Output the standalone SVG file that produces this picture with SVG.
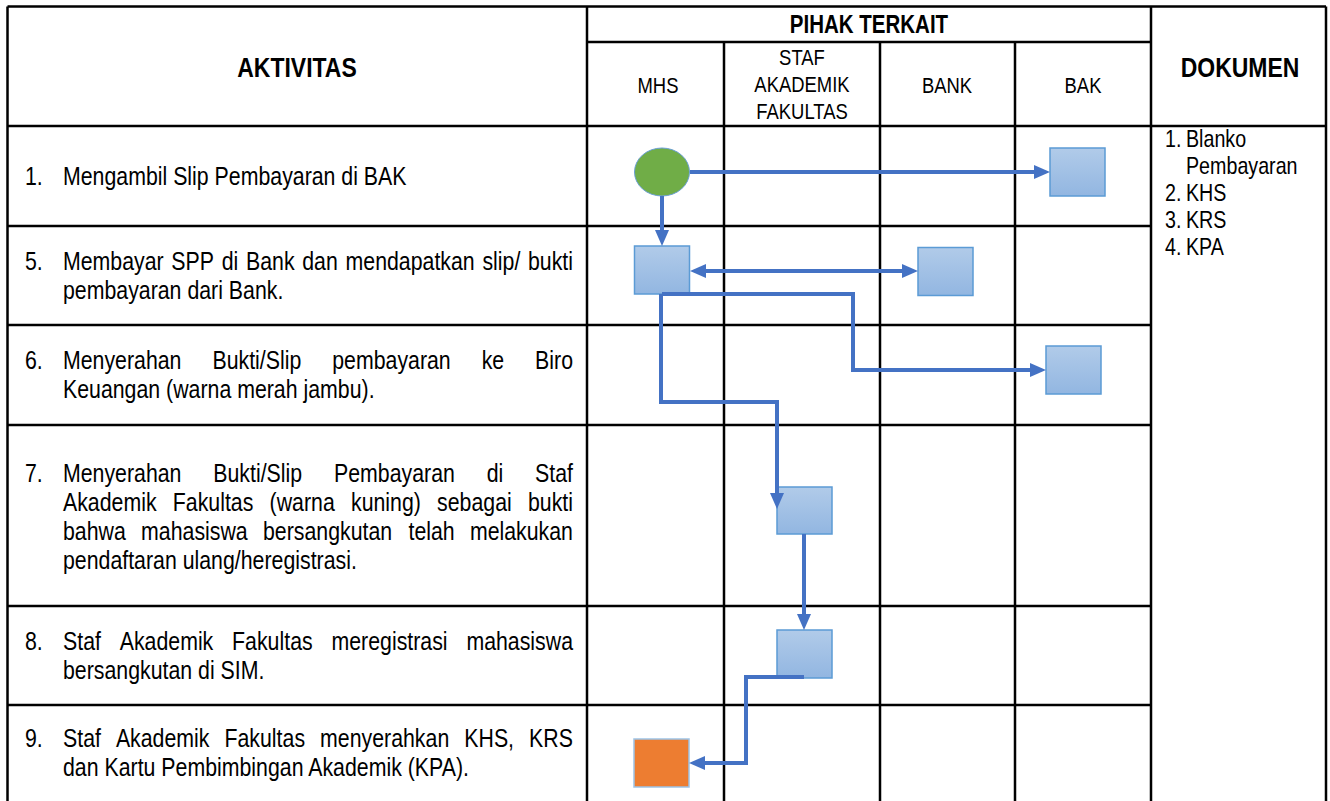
<svg xmlns="http://www.w3.org/2000/svg" width="1330" height="801" viewBox="0 0 1330 801">
<style>
.grid{stroke:#000;stroke-width:2.5;fill:none}
.t{font-family:"Liberation Sans",Arial,sans-serif;font-size:26px;fill:#000}
.d{font-family:"Liberation Sans",Arial,sans-serif;font-size:24px;fill:#000}
.h{font-family:"Liberation Sans",Arial,sans-serif;font-size:22.5px;fill:#000;text-anchor:middle}
.hb{font-family:"Liberation Sans",Arial,sans-serif;font-size:28px;font-weight:bold;fill:#000;text-anchor:middle}
.sq{fill:url(#gb);stroke:#5B9BD5;stroke-width:1.5}
.c{fill:none;stroke:#4472C4;stroke-width:4}
</style>
<defs>
<linearGradient id="gb" x1="0" y1="0" x2="0" y2="1">
<stop offset="0" stop-color="#b1cbe9"/>
<stop offset="1" stop-color="#92b6e1"/>
</linearGradient>
<marker id="ah" markerUnits="userSpaceOnUse" markerWidth="16" markerHeight="14" refX="8" refY="7" orient="auto-start-reverse">
<path d="M0,0 L16,7 L0,14 z" fill="#4472C4"/>
</marker>
</defs>
<rect width="1330" height="801" fill="#fff"/>
<g id="table">
<path class="grid" d="M7.5 6.5 H1326 M7.5 6.5 V801 M1326 6.5 V801 M587 6.5 V801 M1151 6.5 V801 M724 42 V801 M880 42 V801 M1015 42 V801 M587 42 H1151 M7.5 126 H1326 M7.5 226 H1151 M7.5 325 H1151 M7.5 425 H1151 M7.5 606 H1151 M7.5 705 H1151"/>
<g transform="scale(0.82 1)">
<text class="hb" x="362.2" y="77">AKTIVITAS</text>
<text class="hb" x="1059.76" y="33" style="font-size:25px">PIHAK TERKAIT</text>
<text class="hb" x="1512.2" y="77">DOKUMEN</text>
<text class="h" x="802.44" y="93">MHS</text>
<text class="h" x="978.05" y="65">STAF</text>
<text class="h" x="978.05" y="92">AKADEMIK</text>
<text class="h" x="978.05" y="119">FAKULTAS</text>
<text class="h" x="1154.88" y="93">BANK</text>
<text class="h" x="1320.73" y="93">BAK</text>
</g>
</g>
<g id="aktivitas" transform="scale(0.82 1)">
<text class="t" y="185"><tspan x="30.49">1.</tspan><tspan x="76.83">Mengambil Slip Pembayaran di BAK</tspan></text>
<text class="t" y="270"><tspan x="30.49">5.</tspan><tspan x="76.83">Membayar</tspan><tspan x="208.99">SPP</tspan><tspan x="270.41">di</tspan><tspan x="300.01">Bank</tspan><tspan x="368.63">dan</tspan><tspan x="421.4">mendapatkan</tspan><tspan x="588.32">slip/</tspan><tspan x="643.89">bukti</tspan></text>
<text class="t" x="76.83" y="299">pembayaran dari Bank.</text>
<text class="t" y="369.5"><tspan x="30.49">6.</tspan><tspan x="76.83">Menyerahan</tspan><tspan x="259.06">Bukti/Slip</tspan><tspan x="405.2">pembayaran</tspan><tspan x="587.43">ke</tspan><tspan x="652.59">Biro</tspan></text>
<text class="t" x="76.83" y="398.5">Keuangan (warna merah jambu).</text>
<text class="t" y="482.5"><tspan x="30.49">7.</tspan><tspan x="76.83">Menyerahan</tspan><tspan x="260.12">Bukti/Slip</tspan><tspan x="407.32">Pembayaran</tspan><tspan x="593.54">di</tspan><tspan x="652.56">Staf</tspan></text>
<text class="t" y="511.5"><tspan x="76.83">Akademik</tspan><tspan x="210.73">Fakultas</tspan><tspan x="328.78">(warna</tspan><tspan x="428.05">kuning)</tspan><tspan x="533.05">sebagai</tspan><tspan x="643.9">bukti</tspan></text>
<text class="t" y="540.5"><tspan x="76.83">bahwa</tspan><tspan x="172.07">mahasiswa</tspan><tspan x="320.73">bersangkutan</tspan><tspan x="498.17">telah</tspan><tspan x="573.05">melakukan</tspan></text>
<text class="t" x="76.83" y="569.5">pendaftaran ulang/heregistrasi.</text>
<text class="t" y="650"><tspan x="30.49">8.</tspan><tspan x="76.83">Staf</tspan><tspan x="145.98">Akademik</tspan><tspan x="283.05">Fakultas</tspan><tspan x="404.27">meregistrasi</tspan><tspan x="568.78">mahasiswa</tspan></text>
<text class="t" x="76.83" y="679">bersangkutan di SIM.</text>
<text class="t" y="747.5"><tspan x="30.49">9.</tspan><tspan x="76.83">Staf</tspan><tspan x="141.34">Akademik</tspan><tspan x="273.78">Fakultas</tspan><tspan x="390.37">menyerahkan</tspan><tspan x="566.22">KHS,</tspan><tspan x="645.24">KRS</tspan></text>
<text class="t" x="76.83" y="776.5">dan Kartu Pembimbingan Akademik (KPA).</text>
</g>
<g id="dokumen" transform="scale(0.82 1)">
<text class="d" y="147"><tspan x="1420.73">1.</tspan><tspan x="1446.34">Blanko</tspan></text>
<text class="d" x="1446.34" y="174">Pembayaran</text>
<text class="d" y="201"><tspan x="1420.73">2.</tspan><tspan x="1446.34">KHS</tspan></text>
<text class="d" y="228"><tspan x="1420.73">3.</tspan><tspan x="1446.34">KRS</tspan></text>
<text class="d" y="255"><tspan x="1420.73">4.</tspan><tspan x="1446.34">KPA</tspan></text>
</g>
<g id="n-start"><ellipse cx="662" cy="172" rx="27.5" ry="24" fill="#70AD47" stroke="#6a9fd4" stroke-width="1"/></g>
<g id="n-bak1"><rect class="sq" x="1050" y="148" width="55" height="48"/></g>
<g id="n-mhs5"><rect class="sq" x="634.5" y="246" width="55" height="48"/></g>
<g id="n-bank5"><rect class="sq" x="918" y="247.5" width="55" height="48"/></g>
<g id="n-bak6"><rect class="sq" x="1046" y="346" width="55" height="48"/></g>
<g id="n-staf7"><rect class="sq" x="777" y="487" width="55" height="47"/></g>
<g id="n-staf8"><rect class="sq" x="777" y="630" width="55" height="48"/></g>
<g id="n-mhs9"><rect x="634" y="739" width="55" height="48" fill="#ED7D31" stroke="#9DC3E6" stroke-width="1.5"/></g>
<g id="connectors">
<path class="c" d="M690 172 H1042" marker-end="url(#ah)"/>
<path class="c" d="M662 196 V238" marker-end="url(#ah)"/>
<path class="c" d="M698 271 H910" marker-start="url(#ah)" marker-end="url(#ah)"/>
<path class="c" d="M662 294 H853 V370 H1038" marker-end="url(#ah)"/>
<path class="c" d="M661 294 V402 H777 V501" marker-end="url(#ah)"/>
<path class="c" d="M804 534 V622" marker-end="url(#ah)"/>
<path class="c" d="M804 677 H746 V763 H697" marker-end="url(#ah)"/>
</g>
</svg>
